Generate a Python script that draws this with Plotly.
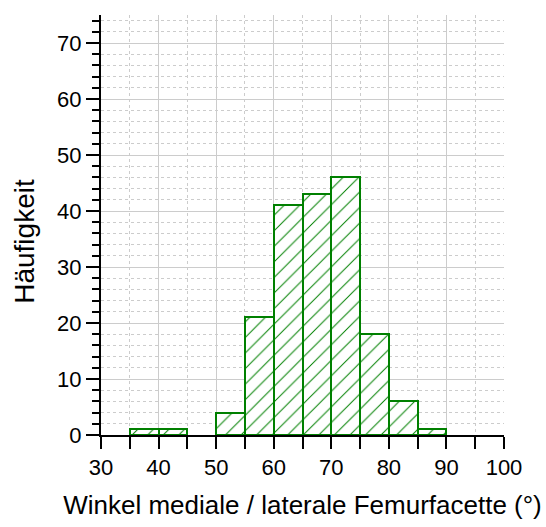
import plotly.graph_objects as go

bin_left = [35, 40, 45, 50, 55, 60, 65, 70, 75, 80, 85]
counts = [1, 1, 0, 4, 21, 41, 43, 46, 18, 6, 1]
bin_width = 5
x_title = "Winkel mediale / laterale Femurfacette (°)"
y_title = "Häufigkeit"

centers = [b + bin_width / 2 for b in bin_left]
line_widths = [2 if c > 0 else 0 for c in counts]

fig = go.Figure()
fig.add_trace(go.Bar(
    x=centers, y=counts, width=[bin_width] * len(centers),
    marker=dict(color="white",
                line=dict(color="#008000", width=line_widths),
                pattern=dict(shape="/", fgcolor="#008000", bgcolor="white",
                             fgopacity=1, size=11, solidity=0.09)),
    showlegend=False,
))

font = "Liberation Sans, Arial, sans-serif"
fig.update_layout(
    width=546, height=527,
    margin=dict(l=101, r=42, t=15, b=90),
    plot_bgcolor="white", paper_bgcolor="white",
    bargap=0,
    font=dict(family=font, size=22, color="black"),
    xaxis=dict(
        range=[30, 100], tickvals=[30, 40, 50, 60, 70, 80, 90, 100],
        showline=True, linecolor="black", linewidth=2,
        ticks="outside", ticklen=12, tickwidth=2, tickcolor="black",
        showgrid=True, gridcolor="#cccccc", gridwidth=1,
        minor=dict(dtick=5, ticks="outside", ticklen=12, tickwidth=2, tickcolor="black",
                   showgrid=True, gridcolor="#cccccc", griddash="dot", gridwidth=1),
        title=dict(text=x_title, font=dict(size=26), standoff=16),
        zeroline=False, tickfont=dict(size=22),
    ),
    yaxis=dict(
        range=[0, 75], tickvals=[0, 10, 20, 30, 40, 50, 60, 70],
        showline=True, linecolor="black", linewidth=2,
        ticks="outside", ticklen=13, tickwidth=2, tickcolor="black",
        showgrid=True, gridcolor="#cccccc", gridwidth=1,
        minor=dict(dtick=2, ticks="outside", ticklen=7, tickwidth=2, tickcolor="black",
                   showgrid=True, gridcolor="#cccccc", griddash="dot", gridwidth=1),
        zeroline=False, tickfont=dict(size=22),
    ),
    annotations=[dict(
        text=y_title, textangle=-90, showarrow=False,
        xref="paper", yref="paper", x=0, y=0.46,
        xanchor="center", yanchor="middle", xshift=-76,
        font=dict(size=28),
    )],
)

fig.write_html("out.html")
